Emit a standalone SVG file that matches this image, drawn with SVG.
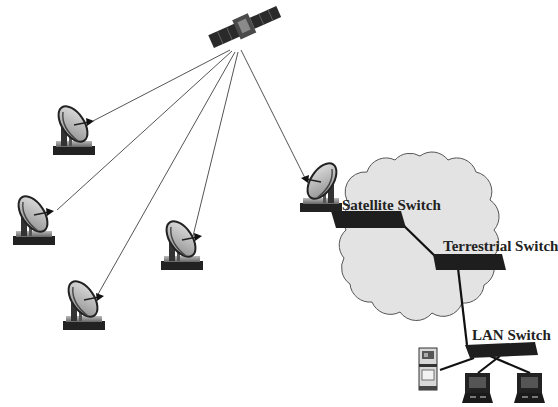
<svg xmlns="http://www.w3.org/2000/svg" width="558" height="407" viewBox="0 0 558 407">
  <style>
    .link { stroke: #555; stroke-width: 1; fill: none; }
    .wire { stroke: #111; stroke-width: 2.2; fill: none; }
    .bar { fill: #1e1e1e; }
    .label { font-family: "Liberation Serif", "Times New Roman", serif; font-weight: bold; font-size: 15px; fill: #222; }
  </style>
  <defs>
    <linearGradient id="dishFill" x1="0" y1="0" x2="1" y2="1">
      <stop offset="0" stop-color="#e6e6e6"/>
      <stop offset="1" stop-color="#8a8a8a"/>
    </linearGradient>
    <linearGradient id="plinth" x1="0" y1="0" x2="0" y2="1">
      <stop offset="0" stop-color="#bbbbbb"/>
      <stop offset="1" stop-color="#666666"/>
    </linearGradient>
    <!-- ground station: dish on a pedestal, feed pointing right -->
    <g id="dish">
      <rect x="13" y="46" width="42" height="9" fill="#222"/>
      <rect x="16" y="41" width="36" height="6" fill="url(#plinth)"/>
      <rect x="21" y="26" width="6" height="20" fill="#333"/>
      <rect x="29" y="32" width="3" height="14" fill="#555"/>
      <ellipse cx="33" cy="24" rx="20" ry="11" transform="rotate(56 33 24)" fill="url(#dishFill)" stroke="#222" stroke-width="2"/>
      <path d="M23 12 Q21 28 38 41" stroke="#444" stroke-width="1.4" fill="none"/>
      <line x1="34" y1="25" x2="49" y2="22" stroke="#222" stroke-width="1.4"/>
      <polygon points="46,18 54,21 47,26" fill="#111"/>
    </g>
    <!-- desktop computer -->
    <g id="pc">
      <rect x="3" y="0" width="25" height="20" fill="#222"/>
      <rect x="7" y="4" width="17" height="11" fill="#555"/>
      <polygon points="0,30 3,20 28,20 31,30" fill="#1a1a1a"/>
      <rect x="8" y="23" width="6" height="2" fill="#777"/>
      <rect x="18" y="23" width="6" height="2" fill="#777"/>
    </g>
  </defs>

  <!-- cloud (terrestrial network) -->
  <g id="cloud">
    <path d="M350 205 A20 20 0 0 1 367 172 A20 20 0 0 1 395 160 A20 20 0 0 1 420 156 A20 20 0 0 1 448 160 A20 20 0 0 1 476 172 A20 20 0 0 1 490 200 A20 20 0 0 1 494 230 A20 20 0 0 1 492 258 A20 20 0 0 1 484 285 A20 20 0 0 1 462 303 A20 20 0 0 1 432 313 A20 20 0 0 1 400 312 A20 20 0 0 1 372 302 A20 20 0 0 1 350 284 A20 20 0 0 1 344 258 A20 20 0 0 1 346 230 A20 20 0 0 1 350 205 Z" fill="#e3e3e3" stroke="#555" stroke-width="1"/>
  </g>

  <!-- connectors -->
  <g id="connectors">
    <line class="link" x1="230" y1="50" x2="93" y2="121"/>
    <line class="link" x1="232" y1="51" x2="57" y2="210"/>
    <line class="link" x1="235" y1="52" x2="97" y2="296"/>
    <line class="link" x1="238" y1="52" x2="193" y2="236"/>
    <line class="link" x1="241" y1="50" x2="305" y2="178"/>
    <line class="wire" x1="400" y1="222" x2="437" y2="258" stroke-width="3.2"/>
    <line class="wire" x1="458" y1="268" x2="467" y2="345"/>
    <line class="wire" x1="440" y1="370" x2="474" y2="358"/>
    <line class="wire" x1="500" y1="356" x2="478" y2="373"/>
    <line class="wire" x1="490" y1="356" x2="530" y2="373"/>
  </g>

  <!-- satellite -->
  <g id="satellite" transform="rotate(-24 244 27)">
    <rect x="208" y="20" width="29" height="14" fill="#2a2a2a"/>
    <line x1="218" y1="20" x2="218" y2="34" stroke="#666" stroke-width="0.8"/>
    <line x1="228" y1="20" x2="228" y2="34" stroke="#666" stroke-width="0.8"/>
    <rect x="236" y="16" width="17" height="21" fill="#4a4a4a"/>
    <rect x="240" y="20" width="9" height="12" fill="#8a8a8a"/>
    <rect x="253" y="21" width="29" height="12" fill="#2a2a2a"/>
    <line x1="263" y1="21" x2="263" y2="33" stroke="#666" stroke-width="0.8"/>
    <line x1="273" y1="21" x2="273" y2="33" stroke="#666" stroke-width="0.8"/>
  </g>

  <!-- ground stations -->
  <g id="station1"><use href="#dish" transform="translate(40 100)"/></g>
  <g id="station2"><use href="#dish" transform="translate(0 190)"/></g>
  <g id="station3"><use href="#dish" transform="translate(50 275)"/></g>
  <g id="station4"><use href="#dish" transform="translate(148 215)"/></g>
  <g id="station5"><use href="#dish" transform="translate(355 157) scale(-1 1)"/></g>

  <!-- switches -->
  <g id="satellite-switch">
    <polygon class="bar" points="331,211 401,211 406,228 336,228"/>
    <text class="label" x="342" y="210">Satellite Switch</text>
  </g>
  <g id="terrestrial-switch">
    <polygon class="bar" points="433,254 502,254 506,270 436,270"/>
    <text class="label" x="443" y="251">Terrestrial Switch</text>
  </g>
  <g id="lan-switch">
    <polygon class="bar" points="465,345 535,342 538,355 470,358"/>
    <text class="label" x="472" y="340">LAN Switch</text>
  </g>

  <!-- server tower -->
  <g id="server">
    <rect x="419" y="348" width="18" height="42" fill="#d8d8d8" stroke="#333" stroke-width="1"/>
    <rect x="422" y="351" width="12" height="8" fill="#555"/>
    <rect x="424" y="353" width="4" height="4" fill="#aaa"/>
    <rect x="419" y="364" width="18" height="3" fill="#333"/>
    <rect x="422" y="370" width="12" height="10" fill="#f2f2f2" stroke="#555" stroke-width="0.8"/>
    <rect x="419" y="386" width="18" height="4" fill="#444"/>
  </g>

  <!-- workstations -->
  <g id="pc1"><use href="#pc" transform="translate(462 373)"/></g>
  <g id="pc2"><use href="#pc" transform="translate(514 373)"/></g>
</svg>
